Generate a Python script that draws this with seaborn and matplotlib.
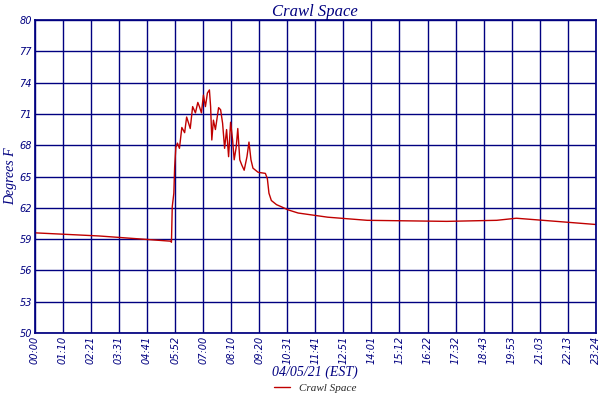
import matplotlib
matplotlib.use("Agg")
import matplotlib.pyplot as plt
import seaborn as sns
import pandas as pd

minutes = [0,161,340,342,344,348,350,353,357,362,368,375,380,385,389,395,402,408,412,417,422,427,432,437,440,443,447,452,460,465,470,475,480,485,490,495,499,504,508,513,518,524,531,536,541,546,559,577,582,586,592,605,617,634,659,733,832,1031,1156,1205,1305,1404]
temps = [59.6,59.3,58.8,58.7,62.1,63.4,65.9,67.8,68.2,67.7,69.7,69.2,70.7,70.1,69.6,71.7,71.1,72.1,71.7,71.1,72.8,71.7,73.0,73.3,71.7,68.5,70.4,69.5,71.6,71.4,70.1,67.7,69.5,66.9,70.2,68.5,66.6,67.8,69.6,66.6,66.1,65.6,66.9,68.3,66.6,65.8,65.4,65.3,64.8,63.4,62.7,62.3,62.1,61.8,61.5,61.1,60.8,60.7,60.8,61.0,60.7,60.4]
xtick_labels = ["00:00","01:10","02:21","03:31","04:41","05:52","07:00","08:10","09:20","10:31","11:41","12:51","14:01","15:12","16:22","17:32","18:43","19:53","21:03","22:13","23:24"]
yticks = [50,53,56,59,62,65,68,71,74,77,80]

df = pd.DataFrame({"t": minutes, "T": temps})
sns.set_theme(style="white")
navy = "#000080"
fig = plt.figure(figsize=(6, 4), dpi=100)
ax = fig.add_axes([0.058, 0.1675, 0.935, 0.7825])
sns.lineplot(data=df, x="t", y="T", ax=ax, color="#c00000", lw=1.0,
             label="Crawl Space")
ax.set_xlim(0, 1404)
ax.set_ylim(50, 80)
xt = [i * 70.2 for i in range(len(xtick_labels))]
ax.set_xticks(xt)
ax.set_xticklabels(xtick_labels, rotation=90, fontsize=7, style="italic", color=navy)
ax.set_yticks(yticks)
ax.set_yticklabels([str(v) for v in yticks], fontsize=7, style="italic", color=navy)
ax.tick_params(length=0, pad=2)
ax.grid(True, color=navy, lw=1)
for s in ax.spines.values():
    s.set_color(navy)
ax.set_title("Crawl Space", fontsize=12, style="italic", color=navy,
             family="Liberation Serif", pad=3)
ax.set_xlabel("04/05/21 (EST)", fontsize=10, style="italic", color=navy,
              family="Liberation Serif", labelpad=1)
ax.set_ylabel("Degrees F", fontsize=10, style="italic", color=navy,
              family="Liberation Serif", labelpad=2)
ax.legend(loc="upper center", bbox_to_anchor=(0.5, -0.135), frameon=False,
          handlelength=1.5, borderpad=0.2,
          prop={"family": "Liberation Serif", "style": "italic", "size": 8})
fig.savefig("out.png", dpi=100)
